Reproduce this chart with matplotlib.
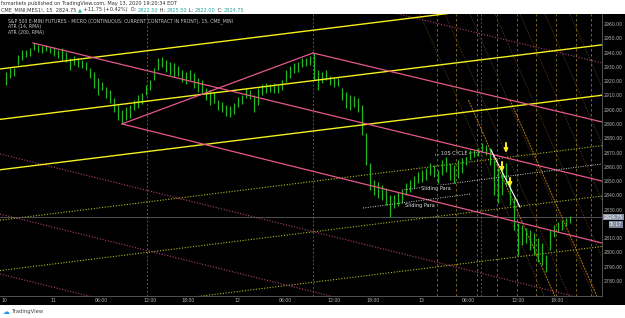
import numpy as np
import matplotlib.pyplot as plt
from matplotlib.patches import Rectangle

# ----------------------------
# Price data (15-min bars, every second bar)
# ----------------------------
highs = [2926.4, 2929.2, 2929.2, 2938.3, 2941.8, 2941.8, 2943.2, 2946.7, 2945.3, 2944.6,
         2945.3, 2943.9, 2943.9, 2941.8, 2943.2, 2940.4, 2936.2, 2937.6, 2936.2, 2934.8,
         2933.4, 2929.2, 2926.4, 2922.2, 2919.4, 2915.9, 2913.8, 2908.2, 2903.3, 2899.8,
         2901.9, 2903.3, 2906.8, 2910.3, 2911.7, 2917.3, 2920.8, 2929.2, 2936.2, 2936.9,
         2934.8, 2933.4, 2932.7, 2930.6, 2927.8, 2926.4, 2927.8, 2925.7, 2922.2, 2920.8,
         2915.2, 2913.8, 2912.4, 2906.8, 2905.4, 2903.3, 2902.6, 2904.7, 2908.9, 2910.3,
         2915.2, 2913.8, 2910.3, 2915.2, 2918.0, 2918.7, 2918.0, 2918.7, 2917.3, 2920.8,
         2927.8, 2930.6, 2932.7, 2933.4, 2936.2, 2936.2, 2937.6, 2939.7, 2927.8, 2926.4,
         2927.8, 2923.6, 2922.2, 2922.2, 2915.2, 2912.4, 2910.3, 2909.6, 2908.2, 2903.3,
         2883.7, 2862.7, 2850.8, 2849.4, 2847.3, 2845.2, 2840.3, 2840.3, 2842.4, 2843.8,
         2848.7, 2850.8, 2853.6, 2856.4, 2857.8, 2859.2, 2862.7, 2861.3, 2857.8, 2864.8,
         2866.9, 2862.7, 2861.3, 2864.8, 2866.2, 2871.8, 2871.8, 2871.8, 2873.2, 2876.7,
         2875.3, 2873.2, 2864.8, 2859.2, 2861.3, 2862.7, 2852.2, 2838.9, 2820.7, 2819.3,
         2817.2, 2815.8, 2813.7, 2810.2, 2806.7, 2798.3, 2815.8, 2819.3, 2821.4, 2822.8,
         2824.2, 2825.6]
lows = [2917.3, 2922.2, 2923.6, 2931.3, 2934.8, 2936.9, 2937.6, 2941.8, 2940.4, 2939.7,
        2941.1, 2939.7, 2937.6, 2936.2, 2934.8, 2933.4, 2927.8, 2931.3, 2929.9, 2929.2,
        2927.8, 2922.2, 2915.2, 2910.3, 2913.8, 2908.2, 2904.7, 2898.4, 2892.8, 2890.7,
        2892.8, 2894.2, 2899.8, 2901.2, 2904.0, 2910.3, 2913.8, 2920.8, 2927.8, 2929.9,
        2926.4, 2924.3, 2922.9, 2923.6, 2919.4, 2918.0, 2920.8, 2915.2, 2912.4, 2911.7,
        2906.8, 2903.3, 2904.7, 2899.8, 2898.4, 2895.6, 2894.9, 2897.0, 2901.9, 2904.0,
        2908.2, 2907.5, 2898.4, 2903.3, 2910.3, 2911.7, 2912.4, 2911.7, 2911.7, 2913.8,
        2919.4, 2922.2, 2925.7, 2926.4, 2929.9, 2930.6, 2931.3, 2920.8, 2913.8, 2918.7,
        2920.8, 2917.3, 2915.9, 2916.6, 2906.8, 2901.2, 2899.8, 2901.9, 2898.4, 2882.3,
        2861.3, 2843.8, 2840.3, 2838.2, 2836.8, 2833.3, 2824.9, 2831.2, 2832.6, 2834.7,
        2840.3, 2842.4, 2845.2, 2848.7, 2849.4, 2850.8, 2854.3, 2852.9, 2848.7, 2854.3,
        2856.4, 2850.8, 2848.7, 2852.2, 2855.7, 2861.3, 2864.8, 2866.9, 2867.6, 2870.4,
        2868.3, 2861.3, 2840.3, 2834.7, 2840.3, 2847.3, 2833.3, 2815.8, 2798.3, 2805.3,
        2806.7, 2801.8, 2798.3, 2793.4, 2791.3, 2786.4, 2801.8, 2810.9, 2814.4, 2815.8,
        2818.6, 2820.7]
last_price = 2824.75

time_ticks = [2, 26.5, 50.5, 75, 94, 118.5, 142.5, 167, 186.5, 210.5, 234, 259, 278.5]
time_labels = ["10", "11", "06:00", "12:00", "18:00", "12", "06:00", "12:00", "18:00",
               "13", "06:00", "12:00", "18:00"]
price_ticks = [2780, 2790, 2800, 2810, 2830, 2840, 2850, 2860, 2870, 2880, 2890,
               2900, 2910, 2920, 2930, 2940, 2950, 2960]

# drawings: price at bar 0 and at the right edge (bar 301)
yellow_solid = [(2928.5, 2980.7), (2893.2, 2945.4), (2857.9, 2910.1)]
yellow_dotted = [(2822.6, 2874.8), (2787.3, 2839.5), (2752.0, 2804.2)]
# pink segments: (bar0, price0, bar1, price1)
pink_solid = [(16.5, 2946.7, 301, 2850.0), (61, 2890.0, 301, 2806.6),
              (61, 2890.0, 156.5, 2939.7), (156.5, 2939.7, 301, 2891.4)]
pink_dotted = [(150, 2983.5, 301, 2932.7), (0, 2869.0, 301, 2764.4),
               (0, 2826.9, 301, 2722.3), (0, 2784.9, 301, 2680.3)]
white_trend = (245.5, 2871.8, 260, 2831.8)
cycle_lines = [73.5, 156.5, 240.5]
time_cycles = [218.5, 228, 238.5, 248.5, 258.5, 268, 278, 288, 295.5]
# steep orange fan: (bar, price, bar, price)
orange_fan = [(234.2, 2906.8, 277.4, 2769.5), (255, 2906.8, 298.4, 2769.5)]
brown_fan = [(210, 2967, 272, 2769.5), (222.5, 2967, 284.5, 2769.5),
             (235, 2967, 297, 2769.5), (247.5, 2967, 309.5, 2769.5),
             (260, 2967, 322, 2769.5), (272.5, 2967, 334.5, 2769.5),
             (285, 2967, 347, 2769.5)]
# arrows: (bar, price from, price to)
arrows = [(253, 2876.7, 2869.7), (251, 2863.4, 2856.4), (255, 2852.2, 2845.9)]
# white dotted labelled lines: (bar0, price0, bar1, price1, label, label bar, label price)
labelled = [(217.5, 2868.3, 240, 2870.0, "10S CYCLE", 227, 2869.0),
            (201, 2843.7, 301, 2862.0, "Sliding Para", 218, 2845.0),
            (181.5, 2831.1, 235, 2840.9, "Sliding Para", 210, 2832.6)]

# ----------------------------
# Figure
# ----------------------------
W, H = 625, 318
fig = plt.figure(figsize=(W / 100, H / 100), dpi=100, facecolor="white")
fig.patches.append(Rectangle((0, 13 / H), 1, (305 - 14) / H, transform=fig.transFigure,
                             facecolor="black", edgecolor="none", zorder=-10))
ax = fig.add_axes([0, 22 / H, 602 / W, 282 / H])
ax.set_zorder(2)
ax.set_facecolor("black")
ax.set_xlim(0, 301)
ax.set_ylim(2769.5, 2967)

bar_x = np.arange(3, 3 + 2 * len(highs), 2)
ax.vlines(bar_x, lows, highs, color="#22b822", lw=0.9, zorder=3)

xs = [0, 301]
for p0, p1 in yellow_solid:
    ax.plot(xs, [p0, p1], color="#f5f01e", lw=1.0, zorder=4)
for p0, p1 in yellow_dotted:
    ax.plot(xs, [p0, p1], color="#b8b820", lw=0.8, ls=(0, (1, 1.5)), zorder=2)
for b0, p0, b1, p1 in pink_solid:
    ax.plot([b0, b1], [p0, p1], color="#e4588c", lw=0.9, zorder=4)
for b0, p0, b1, p1 in pink_dotted:
    ax.plot([b0, b1], [p0, p1], color="#b04070", lw=0.8, ls=(0, (1, 1.5)), zorder=2)
for b in cycle_lines:
    ax.axvline(b, color="#1e7080", lw=0.7, ls=(0, (2, 2)), zorder=1)
for b in time_cycles:
    ax.axvline(b, color="#8a7a20", lw=0.6, ls=(0, (3, 3)), zorder=1)
for b0, p0, b1, p1 in brown_fan:
    ax.plot([b0, b1], [p0, p1], color="#4a3416", lw=0.6, ls=(0, (2, 1.5)), zorder=1)
for b0, p0, b1, p1 in orange_fan:
    ax.plot([b0, b1], [p0, p1], color="#c07818", lw=0.7, ls=(0, (2, 1)), zorder=2)
ax.plot(white_trend[::2], white_trend[1::2], color="white", lw=0.8, zorder=5)
for b, p0, p1 in arrows:
    ax.annotate("", xy=(b, p1), xytext=(b, p0),
                arrowprops=dict(arrowstyle="-|>", color="#ffee22", lw=1.4,
                                mutation_scale=5, shrinkA=0, shrinkB=0), zorder=6)
for b0, p0, b1, p1, lab, lb, lp in labelled:
    ax.plot([b0, b1], [p0, p1], color="#d0d0d0", lw=0.7, ls=(0, (1, 1.5)), zorder=4)
    ax.text(lb, lp, lab, color="#e0e0e0", fontsize=3.6, ha="center", va="center", zorder=6,
            bbox=dict(facecolor="black", edgecolor="none", pad=0.3))

ax.axhline(last_price, color="#707070", lw=0.5, zorder=2)

# axes styling
ax.yaxis.tick_right()
ax.set_yticks(price_ticks)
ax.set_yticklabels([f"{p:.2f}" for p in price_ticks])
ax.set_xticks(time_ticks)
ax.set_xticklabels(time_labels)
ax.tick_params(length=0, labelsize=3.3, colors="#b8b8b8", pad=1.2)
for side in ["top", "left"]:
    ax.spines[side].set_visible(False)
for side in ["right", "bottom"]:
    ax.spines[side].set_color("#606060")
    ax.spines[side].set_linewidth(0.6)

ax.text(1.003, last_price, "2824.75", transform=ax.get_yaxis_transform(), fontsize=3.3,
        color="white", va="center", ha="left",
        bbox=dict(facecolor="#8c96a8", edgecolor="none", pad=0.6))
ax.text(1.012, 2819.5, "05:17", transform=ax.get_yaxis_transform(), fontsize=3.3,
        color="white", va="center", ha="left",
        bbox=dict(facecolor="#7c8698", edgecolor="none", pad=0.5))

# legend texts inside chart
ax.text(4, 2964, "S&P 500 E-MINI FUTURES - MICRO (CONTINUOUS: CURRENT CONTRACT IN FRONT), 15, CME_MINI",
        fontsize=3.3, color="#c8c8c8", va="top")
ax.text(4, 2960, "ATR (14, RMA)", fontsize=3.3, color="#c8c8c8", va="top")
ax.text(4, 2956, "ATR (200, RMA)", fontsize=3.3, color="#c8c8c8", va="top")

# header
fig.text(1 / W, 1 - 4 / H, "fxmarkets published on TradingView.com, May 13, 2020 19:20:34 EDT",
         fontsize=3.6, color="#303030", va="center")
header = [("CME_MINI:MES1!, 15  2824.75 ", "#303030"), ("\u25b2", "#26a69a"),
          (" +11.75 (+0.42%)  O: ", "#303030"), ("2822.50", "#26a69a"),
          (" H: ", "#303030"), ("2825.50", "#26a69a"), (" L: ", "#303030"),
          ("2822.00", "#26a69a"), (" C: ", "#303030"), ("2824.75", "#26a69a")]
renderer = fig.canvas.get_renderer()
x = 1.0
for s, c in header:
    t = fig.text(x / W, 1 - 10 / H, s, fontsize=3.6, color=c, va="center")
    x += t.get_window_extent(renderer).width

fig.text(3 / W, 1 - 312 / H, "\u2601", fontsize=5, color="#2196f3", va="center")
fig.text(12 / W, 1 - 312 / H, "TradingView", fontsize=3.8, color="#404040", va="center")

fig.savefig("out.png", dpi=100, facecolor="white")
